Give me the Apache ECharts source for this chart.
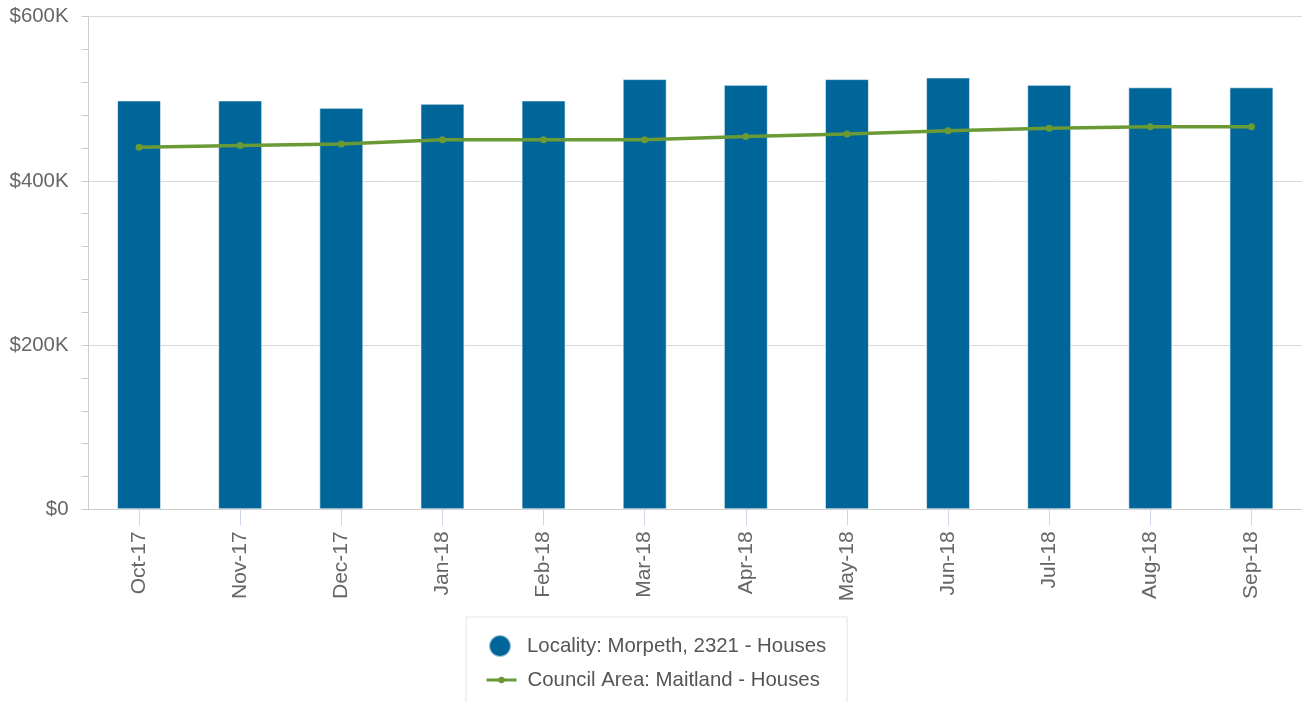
<!DOCTYPE html>
<html>
<head>
<meta charset="utf-8">
<script src="https://cdn.jsdelivr.net/npm/echarts@6/dist/echarts.min.js"></script>
<style>
html,body{margin:0;padding:0;background:#fff;}
#chart{width:1302px;height:702px;}
</style>
</head>
<body>
<div id="chart"></div>
<script>
const categories = ['Oct-17','Nov-17','Dec-17','Jan-18','Feb-18','Mar-18','Apr-18','May-18','Jun-18','Jul-18','Aug-18','Sep-18'];
const localityValues = [498000, 498000, 489000, 494000, 498000, 524000, 517000, 524000, 526000, 517000, 514000, 514000];
const councilValues = [441000, 443000, 445000, 450000, 450000, 450000, 454000, 457000, 461000, 464000, 466000, 466000];
const seriesNames = ['Locality: Morpeth, 2321 - Houses', 'Council Area: Maitland - Houses'];

const FONT = '"Liberation Sans", Arial, sans-serif';
const FS = 20.4;
const chart = echarts.init(document.getElementById('chart'), null, {renderer: 'canvas'});
chart.setOption({
  animation: false,
  backgroundColor: '#ffffff',
  textStyle: {fontFamily: FONT},
  grid: {left: 88.5, top: 16.7, width: 1218, height: 492.6, containLabel: false},
  legend: [
    {
      orient: 'vertical',
      left: 466,
      top: 617,
      padding: [17, 21, 50, 22],
      itemWidth: 30,
      itemHeight: 22,
      borderColor: '#e4e4e4',
      borderWidth: 1,
      backgroundColor: '#ffffff',
      textStyle: {fontFamily: FONT, fontSize: FS, color: '#555555', padding: [0, 0, 0, 7]},
      data: [{name: seriesNames[0], icon: 'circle'}]
    },
    {
      orient: 'vertical',
      left: 485,
      top: 670,
      padding: 0,
      itemWidth: 30,
      itemHeight: 8,
      z: 10,
      lineStyle: {width: 3},
      textStyle: {fontFamily: FONT, fontSize: FS, color: '#555555', padding: [0, 0, 0, 6]},
      data: [{name: seriesNames[1]}]
    }
  ],
  xAxis: {
    type: 'category',
    data: categories,
    boundaryGap: true,
    axisLine: {show: true, lineStyle: {color: '#cccccc', width: 1}},
    axisTick: {show: true, alignWithLabel: true, length: 16, lineStyle: {color: '#ccd6eb', width: 1}},
    axisLabel: {rotate: 90, margin: 22, fontSize: 21, color: '#666666', fontFamily: FONT},
    splitLine: {show: false}
  },
  yAxis: {
    type: 'value',
    min: 0,
    max: 600000,
    interval: 200000,
    axisLine: {show: true, lineStyle: {color: '#cccccc', width: 1}},
    axisTick: {show: true, length: 7, lineStyle: {color: '#cccccc'}},
    minorTick: {show: true, splitNumber: 5, length: 7, lineStyle: {color: '#cccccc'}},
    axisLabel: {
      margin: 20, fontSize: FS, color: '#666666', fontFamily: FONT,
      padding: [4, 0, 0, 0],
      formatter: v => v === 0 ? '$0' : '$' + (v / 1000) + 'K'
    },
    splitLine: {show: true, lineStyle: {color: '#d8d8d8', width: 1}}
  },
  series: [
    {
      name: seriesNames[0],
      type: 'bar',
      data: localityValues,
      barWidth: 44,
      itemStyle: {color: '#006699', borderColor: 'rgba(255,255,255,0.6)', borderWidth: 1},
      z: 2
    },
    {
      name: seriesNames[1],
      type: 'line',
      data: councilValues,
      symbol: 'circle',
      symbolSize: 7,
      showSymbol: true,
      lineStyle: {color: '#6a9a35', width: 3.5},
      itemStyle: {color: '#6a9a35'},
      z: 3
    }
  ]
});
</script>
</body>
</html>
